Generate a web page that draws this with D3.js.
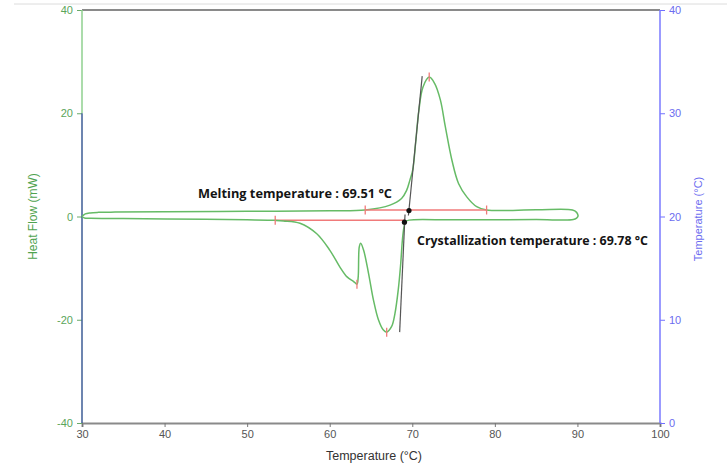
<!DOCTYPE html>
<meta charset="utf-8">
<style>
body { margin: 0; background: #fff; }
text { font-family: "Liberation Sans", Arial, sans-serif; }
.note { font-family: "Open Sans", sans-serif; font-weight: bold; fill: #141414; }
</style>
<svg width="727" height="466"></svg>
<script src="https://d3js.org/d3.v7.min.js"></script>
<script>

// heating run (upper trace), temperature in °C and heat flow in mW
var heatT  = [30.0, 30.4, 31.0, 32.0, 34.0, 40.0, 50.0, 60.0, 64.3, 67.3, 68.7, 69.3, 69.7, 70.05, 70.4, 70.8, 71.3, 72.05, 72.7, 73.4, 74.0, 74.8, 75.6, 76.6, 77.8, 79.0, 85.0, 89.4, 89.9, 90.1];
var heatHF = [0.0, 0.5, 0.7, 0.8, 0.85, 0.9, 1.0, 1.1, 1.26, 2.2, 3.5, 5.0, 7.0, 9.0, 14.2, 20.6, 25.1, 27.0, 25.8, 22.6, 17.4, 10.9, 6.4, 3.8, 1.9, 1.26, 1.3, 1.25, 0.8, 0.1];

// cooling run (lower trace)
var coolT  = [30.0, 30.3, 31.0, 35.0, 45.0, 50.0, 53.4, 54.4, 56.4, 58.4, 60.0, 61.2, 62.1, 62.9, 63.3, 63.45, 63.58, 63.75, 64.1, 64.7, 65.3, 65.9, 66.5, 66.9, 67.5, 67.9, 68.3, 68.6, 68.8, 69.0, 69.2, 69.6, 75.0, 85.0, 89.5, 89.9, 90.1];
var coolHF = [0.0, -0.3, -0.35, -0.4, -0.55, -0.65, -0.75, -0.85, -1.3, -3.3, -6.5, -9.7, -11.7, -12.6, -13.1, -11.7, -5.9, -5.2, -6.5, -11.0, -16.2, -20.0, -22.0, -22.4, -21.3, -18.8, -14.2, -9.1, -4.6, -2.0, -1.0, -0.7, -0.65, -0.6, -0.6, -0.3, 0.1];

// analysis marks
var baseUp   = [[64.3, 1.26], [79.0, 1.26]];
var baseDown = [[53.4, -0.72], [69.0, -0.72]];
var peakMarks = [[72.05, 27.0], [63.3, -13.1], [66.9, -22.4], [64.3, 1.26], [79.0, 1.26], [53.4, -0.72]];
var tangentMelt  = [[71.2, 27.2], [69.53, 0.2]];
var tangentCryst = [[69.12, 0.4], [68.47, -22.4]];
var onsetDots = [[69.6, 1.15], [69.05, -1.1]];
var notes = ["Melting temperature : 69.51 °C", "Crystallization temperature : 69.78 °C"];

var xTicks = d3.range(30, 101, 10);
var hfTicks = d3.range(-40, 41, 20);
var tTicks = d3.range(0, 41, 10);

var svg = d3.select("svg");

var x = d3.scaleLinear().domain([30, 100]).range([82, 660]);
var y = d3.scaleLinear().domain([-40, 40]).range([423, 10]);
var yr = d3.scaleLinear().domain([0, 40]).range([423, 10]);
var plain = function(d) { return String(d); };

// faint page rule at the very top
svg.append("line").attr("x1", 14).attr("x2", 727).attr("y1", 4).attr("y2", 4)
   .attr("stroke", "#dcdcdc").attr("stroke-width", 1);

// frame top
svg.append("line").attr("x1", x(30)).attr("x2", x(100)).attr("y1", y(40)).attr("y2", y(40))
   .attr("stroke", "#8a8a8a").attr("stroke-width", 2);

// bottom axis
var gx = svg.append("g").attr("transform", "translate(0," + y(-40) + ")");
gx.call(d3.axisBottom(x).tickValues(d3.range(30, 100.1, 2.5)).tickSize(3).tickFormat(""));
gx.call(d3.axisBottom(x).tickValues(xTicks).tickSize(4).tickPadding(3).tickFormat(plain));
gx.selectAll("path").attr("stroke", "#8a8a8a").attr("stroke-width", 2);
gx.selectAll("line").attr("stroke", "#777");
gx.selectAll("text").attr("fill", "#555").style("font-size", "11px");

// left axis (heat flow)
var gl = svg.append("g").attr("transform", "translate(" + x(30) + ",0)");
gl.call(d3.axisLeft(y).tickValues(d3.range(-40, 40.1, 5)).tickSize(3).tickFormat(""));
gl.call(d3.axisLeft(y).tickValues(hfTicks).tickSize(5).tickPadding(4).tickFormat(plain));
gl.selectAll("path").remove();
gl.selectAll("line").attr("stroke", "#6aaa6a");
gl.selectAll("text").attr("fill", "#5aa55a").style("font-size", "11px");
svg.append("line").attr("x1", x(30)).attr("x2", x(30)).attr("y1", y(40)).attr("y2", y(20))
   .attr("stroke", "#8fd08f").attr("stroke-width", 1.5);
svg.append("line").attr("x1", x(30)).attr("x2", x(30)).attr("y1", y(20)).attr("y2", y(-40))
   .attr("stroke", "#3d5d96").attr("stroke-width", 1.5);

// right axis (temperature)
var gr = svg.append("g").attr("transform", "translate(" + x(100) + ",0)");
gr.call(d3.axisRight(yr).tickValues(d3.range(0, 40.1, 2.5)).tickSize(3).tickFormat(""));
gr.call(d3.axisRight(yr).tickValues(tTicks).tickSize(5).tickPadding(4).tickFormat(plain));
gr.selectAll("path").remove();
gr.selectAll("line").attr("stroke", "#7070ff");
gr.selectAll("text").attr("fill", "#6c6cf0").style("font-size", "11px");
svg.append("line").attr("x1", x(100)).attr("x2", x(100)).attr("y1", y(40)).attr("y2", y(-40))
   .attr("stroke", "#7a7aff").attr("stroke-width", 1.5);

// axis titles
svg.append("text").attr("transform", "translate(37," + y(0) + ") rotate(-90)")
   .attr("text-anchor", "middle").attr("fill", "#4fa34f").style("font-size", "12px")
   .text("Heat Flow (mW)");
svg.append("text").attr("transform", "translate(702,219) rotate(-90)")
   .attr("text-anchor", "middle").attr("fill", "#6c6cf0").style("font-size", "11px")
   .text("Temperature (°C)");
svg.append("text").attr("x", 374).attr("y", 460)
   .attr("text-anchor", "middle").attr("fill", "#333").style("font-size", "12.5px")
   .text("Temperature (°C)");

// traces
var line = d3.line().x(function(d) { return x(d[0]); }).y(function(d) { return y(d[1]); })
   .curve(d3.curveCatmullRom.alpha(0.5));
var straight = d3.line().x(function(d) { return x(d[0]); }).y(function(d) { return y(d[1]); });
var heat = d3.zip(heatT, heatHF);
var cool = d3.zip(coolT, coolHF);

svg.append("path").datum(baseDown).attr("d", straight).attr("fill", "none")
   .attr("stroke", "#f07a7a").attr("stroke-width", 1.5);

svg.append("path").datum(cool).attr("d", line).attr("fill", "none")
   .attr("stroke", "#66bb66").attr("stroke-width", 1.5);
svg.append("path").datum(heat).attr("d", line).attr("fill", "none")
   .attr("stroke", "#66bb66").attr("stroke-width", 1.5);

svg.append("path").datum(baseUp).attr("d", straight).attr("fill", "none")
   .attr("stroke", "#f07a7a").attr("stroke-width", 1.5);

// tick marks on peaks and limits
svg.selectAll(".pk").data(peakMarks).enter().append("line").attr("class", "pk")
   .attr("x1", function(d) { return x(d[0]); }).attr("x2", function(d) { return x(d[0]); })
   .attr("y1", function(d) { return y(d[1]) - 4.5; }).attr("y2", function(d) { return y(d[1]) + 4.5; })
   .attr("stroke", "#f07a7a").attr("stroke-width", 1.3);

// onset tangents
[tangentMelt, tangentCryst].forEach(function(t) {
  svg.append("line").attr("x1", x(t[0][0])).attr("y1", y(t[0][1]))
     .attr("x2", x(t[1][0])).attr("y2", y(t[1][1]))
     .attr("stroke", "#555").attr("stroke-width", 1.2);
});

svg.selectAll(".dot").data(onsetDots).enter().append("circle").attr("class", "dot")
   .attr("cx", function(d) { return x(d[0]); }).attr("cy", function(d) { return y(d[1]); })
   .attr("r", 2.6).attr("fill", "#111");

// annotations
svg.append("text").attr("class", "note").attr("x", 198).attr("y", 197.5)
   .attr("textLength", 194).attr("lengthAdjust", "spacingAndGlyphs")
   .style("font-size", "12px").text(notes[0]);
svg.append("text").attr("class", "note").attr("x", 417).attr("y", 244.5)
   .attr("textLength", 231).attr("lengthAdjust", "spacingAndGlyphs")
   .style("font-size", "12px").text(notes[1]);

</script>
